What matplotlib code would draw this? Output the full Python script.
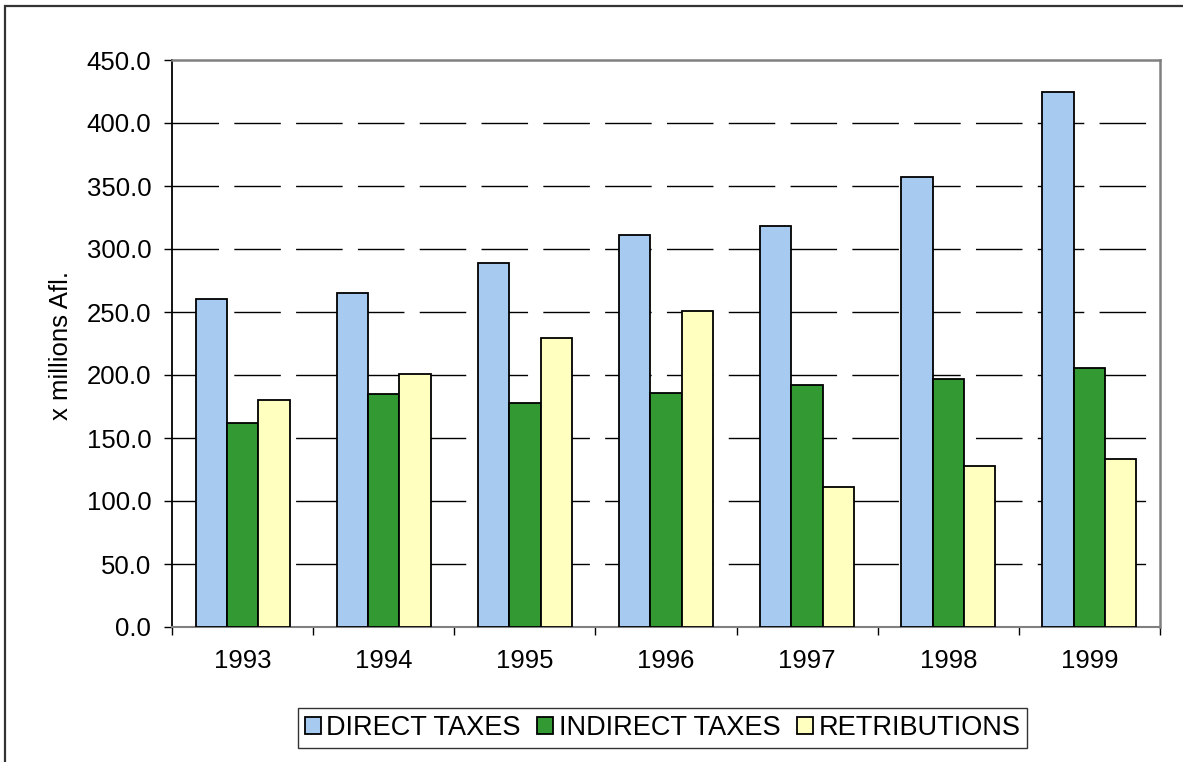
import matplotlib
matplotlib.use("Agg")
import matplotlib.pyplot as plt
import numpy as np
from matplotlib.patches import Rectangle

years = ["1993", "1994", "1995", "1996", "1997", "1998", "1999"]
direct_taxes = [260, 265, 289, 311, 318, 357, 425]
indirect_taxes = [162, 185, 178, 186, 192, 197, 205.5]
retributions = [180.5, 201, 229.5, 251, 111, 128, 133.5]
series_names = ["DIRECT TAXES", "INDIRECT TAXES", "RETRIBUTIONS"]
series_colors = ["#A6CAF0", "#339933", "#FFFFC0"]
yticks = [0, 50, 100, 150, 200, 250, 300, 350, 400, 450]

plt.rcParams['font.family'] = ['Liberation Sans', 'DejaVu Sans']

W, H = 1183, 762
fig = plt.figure(figsize=(W / 100, H / 100), dpi=100)
fig.patch.set_facecolor("white")

# outer frame
fig.patches.append(Rectangle((5 / W, -0.05), 1.1, 1 - 6 / H + 0.05,
                             transform=fig.transFigure, fill=False,
                             edgecolor="#333333", linewidth=1.6))

ax = fig.add_axes([172 / W, (H - 627) / H, 988 / W, 567 / H])
x = np.arange(len(years))
w = 1 / 4.5
data = [direct_taxes, indirect_taxes, retributions]
for i, (vals, name, col) in enumerate(zip(data, series_names, series_colors)):
    ax.bar(x + (i - 1) * w, vals, width=w, color=col, edgecolor="black",
           linewidth=1.3, label=name, zorder=3)

ax.set_xlim(-0.5, len(years) - 0.5)
ax.set_ylim(0, 450)
ax.set_yticks(yticks)
ax.set_yticklabels([f"{v:.1f}" for v in yticks], fontsize=18.5)

# gridlines
for v in yticks[1:-1]:
    ax.axhline(v, color="black", linewidth=1.0, dashes=(33.5, 11), zorder=1)

# x ticks at category boundaries, labels at centers
ax.set_xticks(np.arange(-0.5, len(years), 1.0))
ax.set_xticklabels([])
ax.set_xticks(x, minor=True)
ax.set_xticklabels(years, minor=True, fontsize=18.5)
ax.tick_params(axis="x", which="major", length=6, width=1, direction="out", color="black")
ax.tick_params(axis="x", which="minor", length=0, pad=16)
ax.tick_params(axis="y", length=6, width=1, direction="out", pad=9, color="black")

for s in ["top", "right"]:
    ax.spines[s].set_color("#808080")
    ax.spines[s].set_linewidth(1.8)
ax.spines["bottom"].set_color("#808080")
ax.spines["bottom"].set_linewidth(1.5)
ax.spines["left"].set_color("black")
ax.spines["left"].set_linewidth(1.3)

fig.text(61.5 / W, 1 - 345 / H, "x millions Afl.", rotation=90,
         ha="center", va="center", fontsize=18.5)

leg = fig.legend(loc="center", bbox_to_anchor=(662.5 / W, 1 - 728 / H), ncol=3,
                 frameon=True, fancybox=False, edgecolor="black", fontsize=19.5,
                 handlelength=0.6, handleheight=0.6, handletextpad=0.2,
                 columnspacing=0.6, borderpad=0.25, borderaxespad=0)
leg.get_frame().set_linewidth(1.0)

fig.savefig("out.png", dpi=100)
